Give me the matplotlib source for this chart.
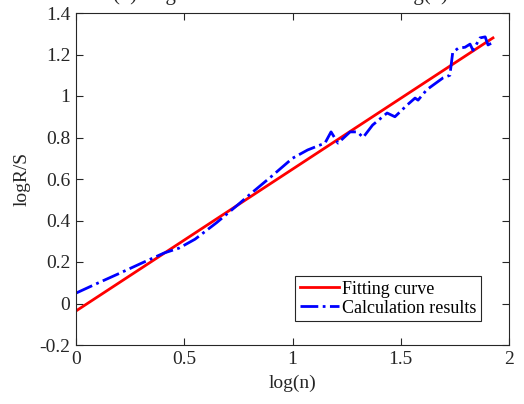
import matplotlib
matplotlib.use('Agg')
import matplotlib.pyplot as plt

# Fitted line end points
fit_x = [0.0, 1.926]
fit_y = [-0.036, 1.28]

# R/S calculation results
calc_x = [0, 0.1, 0.2, 0.3, 0.406, 0.476, 0.55, 0.65, 0.757, 0.80, 0.9, 1.0,
          1.07, 1.15, 1.178, 1.21, 1.266, 1.30, 1.326, 1.37, 1.437, 1.473,
          1.53, 1.566, 1.58, 1.62, 1.65, 1.695, 1.727, 1.74, 1.765, 1.797,
          1.82, 1.834, 1.866, 1.89, 1.903, 1.92]
calc_y = [0.05, 0.098, 0.145, 0.193, 0.243, 0.267, 0.31, 0.39, 0.484, 0.523,
          0.61, 0.70, 0.74, 0.773, 0.827, 0.773, 0.827, 0.827, 0.80, 0.86,
          0.918, 0.90, 0.957, 0.99, 0.98, 1.03, 1.053, 1.087, 1.10, 1.21,
          1.23, 1.235, 1.25, 1.22, 1.28, 1.285, 1.246, 1.255]

x_ticks = [0, 0.5, 1, 1.5, 2]
x_labels = ['0', '0.5', '1', '1.5', '2']
y_ticks = [-0.2, 0, 0.2, 0.4, 0.6, 0.8, 1.0, 1.2, 1.4]
y_labels = ['-0.2', '0', '0.2', '0.4', '0.6', '0.8', '1', '1.2', '1.4']

plt.rcParams['font.family'] = ['Liberation Serif', 'DejaVu Serif']

fig = plt.figure(figsize=(5.24, 4.04), dpi=100)
ax = fig.add_axes([76 / 524, 1 - 345 / 404, 433 / 524, 332 / 404])

ax.plot(fit_x, fit_y, color='#ff0000', lw=2, label='Fitting curve')
ax.plot(calc_x, calc_y, color='#0000ff', lw=2, ls='-.', label='Calculation results')

ax.set_xlim(0, 2)
ax.set_ylim(-0.2, 1.4)
ax.set_xticks(x_ticks)
ax.set_xticklabels(x_labels)
ax.set_yticks(y_ticks)
ax.set_yticklabels(y_labels)

gray = '#262626'
for sp in ax.spines.values():
    sp.set_color(gray)
    sp.set_linewidth(0.8)
ax.tick_params(direction='in', top=True, right=True, length=5, width=0.8,
               colors=gray, labelsize=14, labelcolor=gray, pad=4)

ax.set_xlabel('log(n)', fontsize=14, color=gray, labelpad=5)
ax.set_ylabel('logR/S', fontsize=14, color=gray, labelpad=6)

leg = ax.legend(loc='lower right', bbox_to_anchor=(0.935, 0.072), fontsize=13,
                fancybox=False, framealpha=1, edgecolor=gray,
                handlelength=2.2, handletextpad=0.15, borderpad=0.25,
                labelspacing=0.1, borderaxespad=0)
leg.get_frame().set_linewidth(0.8)

# title sits above the canvas, only descenders show, as in the reference
fig.text(0.535, 1.0, '(b) Logarithmic curve of R/S and log(n)',
         ha='center', va='baseline', fontsize=15, color=gray)

fig.savefig('out.png', dpi=100)
